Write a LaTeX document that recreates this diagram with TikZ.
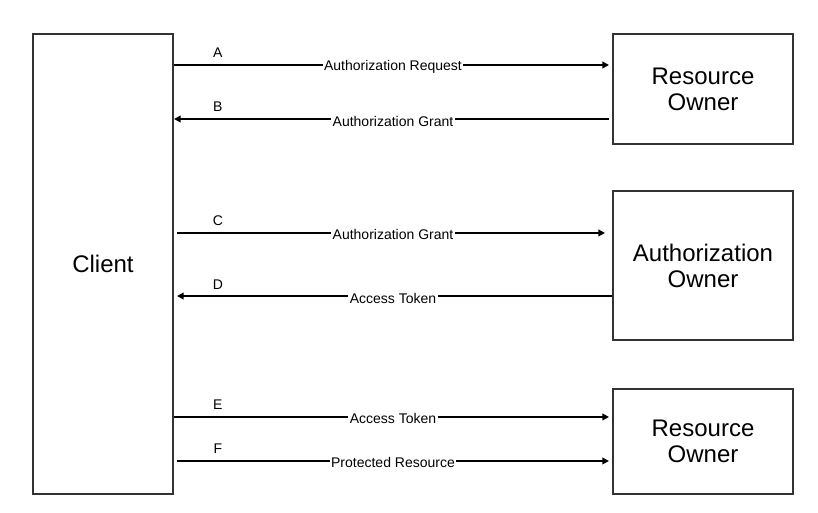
\documentclass[tikz,border=0pt]{standalone}
\usepackage{fontspec}
\setmainfont{Liberation Sans}
\usetikzlibrary{positioning, arrows.meta}

\begin{document}
\begin{tikzpicture}[x=0.75pt, y=-0.75pt, >={Triangle[length=5pt,width=5pt]},
    party/.style={rectangle, draw=black!80, line width=1.5pt, align=center, font=\fontsize{18}{19.5}\selectfont},
    flow/.style={line width=1.5pt, ->},
    msg/.style={midway, fill=white, inner sep=1pt, yshift=-1.5pt, font=\fontsize{10.5}{12}\selectfont},
    tag/.style={above=4.5pt, inner sep=0pt, font=\fontsize{10.5}{12}\selectfont}]
			\useasboundingbox (0,0) rectangle (818,513);
			% Nodes
			\node (Client) [party, minimum width=105pt, minimum height=345pt] at (103,264) {Client};
			\node (ResOwnerA) [party, minimum width=135pt, minimum height=82.5pt] at (703,89) {Resource\\Owner};
			\node (AuthOwner) [party, minimum width=135pt, minimum height=111.75pt, below=33.75pt of ResOwnerA] {Authorization\\Owner};
			\node (ResOwnerB) [party, minimum width=135pt, minimum height=78.75pt, below=35.25pt of AuthOwner] {Resource\\Owner};
		
			% Line ends
			\coordinate (a) at ([yshift=18pt]ResOwnerA.west);
			\coordinate (b) at ([yshift=-22.5pt]ResOwnerA.west);
			\coordinate (c) at ([yshift=24.4pt]AuthOwner.west);
			\coordinate (d) at ([yshift=-22.9pt]AuthOwner.west);
			\coordinate (e) at ([yshift=18.4pt]ResOwnerB.west);
			\coordinate (f) at ([yshift=-14.6pt]ResOwnerB.west);
		
			% Arrows
			\draw[flow, shorten >=2.25pt] (Client.east |- a) -- (a) node[msg] {Authorization Request} node[tag, pos=0.1] {A};
			\draw[flow, shorten <=2.25pt] (b) -- (Client.east |- b) node[msg] {Authorization Grant} node[tag, pos=0.9] {B};
			\draw[flow, shorten <=2.25pt, shorten >=5.25pt] (Client.east |- c) -- (c) node[msg] {Authorization Grant} node[tag, pos=0.1] {C};
			\draw[flow, shorten >=2.25pt] (d) -- (Client.east |- d) node[msg] {Access Token} node[tag, pos=0.9] {D};
			\draw[flow, shorten >=2.25pt] (Client.east |- e) -- (e) node[msg] {Access Token} node[tag, pos=0.1] {E};
			\draw[flow, shorten <=2.25pt, shorten >=2.25pt] (Client.east |- f) -- (f) node[msg] {Protected Resource} node[tag, pos=0.1] {F};
		\end{tikzpicture}
\end{document}
